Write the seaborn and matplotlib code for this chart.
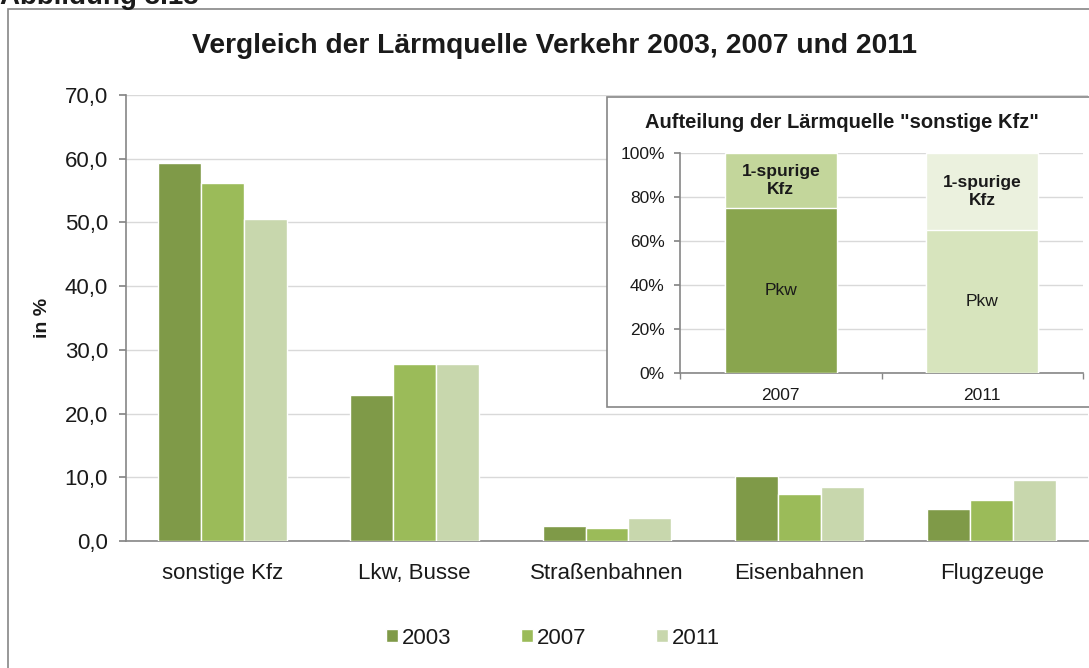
import matplotlib
matplotlib.use("Agg")
import matplotlib.pyplot as plt
import matplotlib.patches as mpatches
import seaborn as sns
import pandas as pd
from matplotlib.ticker import FuncFormatter

sns.set_theme(style="white")
plt.rcParams['font.family'] = ['Liberation Sans', 'DejaVu Sans']

# ---- data ----
categories = ["sonstige Kfz", "Lkw, Busse", "Straßenbahnen", "Eisenbahnen", "Flugzeuge"]
years = ["2003", "2007", "2011"]
v2003 = [59.3, 22.9, 2.4, 10.2, 5.1]
v2007 = [56.2, 27.8, 2.1, 7.4, 6.4]
v2011 = [50.5, 27.8, 3.6, 8.4, 9.5]

inset_years = ["2007", "2011"]
pkw = [75, 65]
einspurig = [25, 35]

year_colors = ["#7f9a48", "#9bbb59", "#c8d7ad"]
pkw_colors = ["#89a54e", "#d7e4bd"]
einsp_colors = ["#c3d69b", "#ebf1de"]

grid_c = "#d9d9d9"
axis_c = "#868686"
text_c = "#1a1a1a"

df = pd.DataFrame({
    "cat": categories * 3,
    "year": [y for y in years for _ in categories],
    "val": v2003 + v2007 + v2011,
})

fig = plt.figure(figsize=(10.89, 6.68), dpi=100)

# outer frame
fig.patches.append(mpatches.Rectangle((8/1089, -0.05), 1.2, 1 - 9/668 + 0.05,
                                      transform=fig.transFigure, fill=False,
                                      edgecolor=axis_c, lw=1.2, zorder=0))

fig.text(0/1089, 1 - 4/668, "Abbildung 3.13", fontsize=20, fontweight="bold",
         color=text_c, ha="left", va="baseline")

# ---- main axes ----
ax = fig.add_axes([126/1089, 1 - 541/668, 962/1089, 446/668])
sns.barplot(data=df, x="cat", y="val", hue="year", palette=year_colors,
            width=0.67, gap=0, saturation=1, ax=ax, legend=True, zorder=3)
ax.set_ylim(0, 70)
ax.set_xlim(-0.5, 4.5)
ax.set_yticks(range(0, 71, 10))
ax.yaxis.set_major_formatter(FuncFormatter(lambda v, p: f"{v:.1f}".replace(".", ",")))
ax.grid(axis="y", color=grid_c, lw=1, zorder=0)
ax.set_axisbelow(True)
for s in ["top", "right"]:
    ax.spines[s].set_visible(False)
for s in ["left", "bottom"]:
    ax.spines[s].set_color(axis_c)
    ax.spines[s].set_linewidth(1.2)
ax.tick_params(axis="y", which="major", left=True, length=5, color=axis_c,
               labelsize=16, labelcolor=text_c, pad=8)
ax.tick_params(axis="x", bottom=False, labelsize=16, labelcolor=text_c, pad=10)
ax.set_xlabel("")
ax.set_ylabel("in %", fontsize=14, fontweight="bold", color=text_c, labelpad=10)
ax.set_facecolor("none")

handles, labels = ax.get_legend_handles_labels()
ax.legend(handles, labels, loc="center", bbox_to_anchor=(553/1089, 1 - 638/668),
          bbox_transform=fig.transFigure, ncol=3, frameon=False, fontsize=16,
          handlelength=0.55, handleheight=0.55, handletextpad=0.2,
          columnspacing=3.1, labelcolor=text_c)

fig.text(555/1089, 1 - 46/668, "Vergleich der Lärmquelle Verkehr 2003, 2007 und 2011",
         fontsize=20.3, fontweight="bold", color=text_c, ha="center", va="center")

# ---- inset ----
fig.patches.append(mpatches.Rectangle((607/1089, 1 - 407/668), 0.6, 310/668,
                                      transform=fig.transFigure, facecolor="white",
                                      edgecolor=axis_c, lw=1.2, zorder=2))
iax = fig.add_axes([680/1089, 1 - 373/668, 403/1089, 220/668], zorder=5)
dfi = pd.DataFrame({"year": inset_years,
                    "total": [p + e for p, e in zip(pkw, einspurig)],
                    "pkw": pkw})
sns.barplot(data=dfi, x="year", y="total", hue="year", palette=einsp_colors,
            width=0.556, saturation=1, ax=iax, legend=False, zorder=3)
sns.barplot(data=dfi, x="year", y="pkw", hue="year", palette=pkw_colors,
            width=0.556, saturation=1, ax=iax, legend=False, zorder=4)
iax.set_ylim(0, 100)
iax.set_xlim(-0.5, 1.5)
iax.set_yticks(range(0, 101, 20))
iax.yaxis.set_major_formatter(FuncFormatter(lambda v, p: f"{int(v)}%"))
iax.set_xticks([-0.5, 0.5, 1.5], minor=True)
iax.grid(axis="y", color=grid_c, lw=1, zorder=0)
iax.set_axisbelow(True)
for s in ["top", "right"]:
    iax.spines[s].set_visible(False)
for s in ["left", "bottom"]:
    iax.spines[s].set_color(axis_c)
    iax.spines[s].set_linewidth(1.2)
iax.tick_params(axis="y", left=True, length=4, color=axis_c, labelsize=12.5,
                labelcolor=text_c, pad=7)
iax.tick_params(axis="x", which="major", bottom=False, labelsize=12.5,
                labelcolor=text_c, pad=5)
iax.tick_params(axis="x", which="minor", bottom=True, length=4, color=axis_c)
iax.set_xlabel("")
iax.set_ylabel("")
iax.set_facecolor("white")

for i in range(len(inset_years)):
    iax.text(i, pkw[i] / 2, "Pkw", ha="center", va="center", fontsize=12.5,
             color=text_c, zorder=6)
    iax.text(i, pkw[i] + einspurig[i] / 2, "1-spurige\nKfz", ha="center",
             va="center", fontsize=12.5, fontweight="bold", color=text_c,
             linespacing=1.2, zorder=6)

fig.text(842/1089, 1 - 122/668, 'Aufteilung der Lärmquelle "sonstige Kfz"',
         fontsize=14.5, fontweight="bold", color=text_c, ha="center", va="center",
         zorder=6)

fig.savefig("out.png", dpi=100)
